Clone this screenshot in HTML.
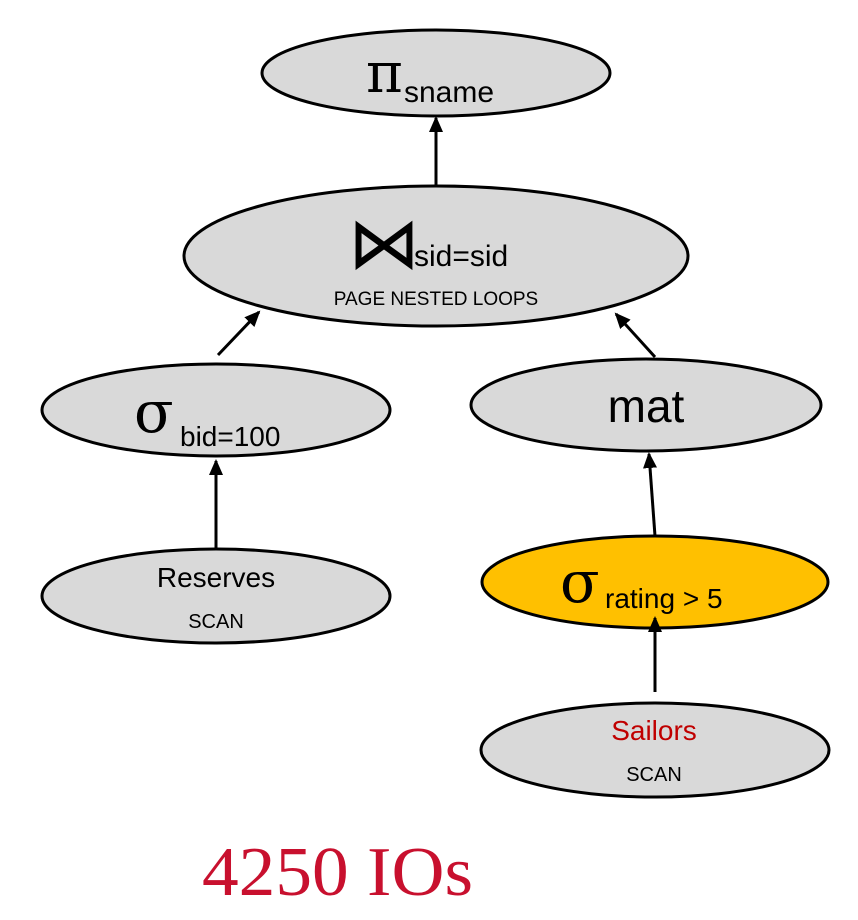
<!DOCTYPE html>
<html><head><meta charset="utf-8"><style>
html,body{margin:0;padding:0;background:#fff;}
svg{display:block;}
</style></head><body>
<svg width="858" height="920" viewBox="0 0 858 920" xmlns="http://www.w3.org/2000/svg">
<defs>
<marker id="ah" markerWidth="16" markerHeight="14" refX="14" refY="7" orient="auto" markerUnits="userSpaceOnUse" viewBox="0 0 16 14">
<path d="M0,0 L16,7 L0,14 z" fill="#000"/>
</marker>
</defs>
<g stroke="#000" stroke-width="3" fill="#d9d9d9">
<ellipse cx="436" cy="73" rx="174" ry="43"/>
<ellipse cx="436" cy="256" rx="252" ry="70"/>
<ellipse cx="216" cy="410" rx="174" ry="46"/>
<ellipse cx="646" cy="405" rx="175" ry="46"/>
<ellipse cx="655" cy="582" rx="173" ry="46" fill="#ffc000"/>
<ellipse cx="216" cy="596" rx="174" ry="47"/>
<ellipse cx="655" cy="750" rx="174" ry="47"/>
</g>
<g stroke="#000" stroke-width="3" marker-end="url(#ah)">
<line x1="436" y1="186" x2="436" y2="118"/>
<line x1="218" y1="355" x2="259" y2="312"/>
<line x1="655" y1="357" x2="616" y2="314"/>
<line x1="216" y1="549" x2="216" y2="461"/>
<line x1="655" y1="536" x2="649" y2="454"/>
<line x1="655" y1="692" x2="655" y2="618"/>
</g>
<g font-family="Liberation Sans, DejaVu Sans, sans-serif" fill="#000">
<text x="366" y="92" font-size="56" font-family="DejaVu Serif, serif">π</text>
<text x="404" y="102" font-size="30">sname</text>
<text x="348" y="268" font-size="72" font-family="DejaVu Sans, sans-serif">⋈</text>
<text x="414" y="266" font-size="30">sid=sid</text>
<text x="436" y="305" font-size="19" text-anchor="middle">PAGE NESTED LOOPS</text>
<text x="134" y="432" font-size="58" font-family="DejaVu Serif, serif">σ</text>
<text x="180" y="446" font-size="28">bid=100</text>
<text x="646" y="422" font-size="46" text-anchor="middle">mat</text>
<text x="560" y="602" font-size="58" font-family="DejaVu Serif, serif">σ</text>
<text x="605" y="608" font-size="28">rating &gt; 5</text>
<text x="216" y="587" font-size="28" text-anchor="middle">Reserves</text>
<text x="216" y="628" font-size="20" text-anchor="middle">SCAN</text>
<text x="654" y="740" font-size="28" text-anchor="middle" fill="#c00000">Sailors</text>
<text x="654" y="781" font-size="20" text-anchor="middle">SCAN</text>
</g>
<text x="202" y="895" font-size="70" textLength="271" lengthAdjust="spacingAndGlyphs" font-family="Liberation Serif, serif" fill="#c8102e">4250 IOs</text>
</svg>
</body></html>
